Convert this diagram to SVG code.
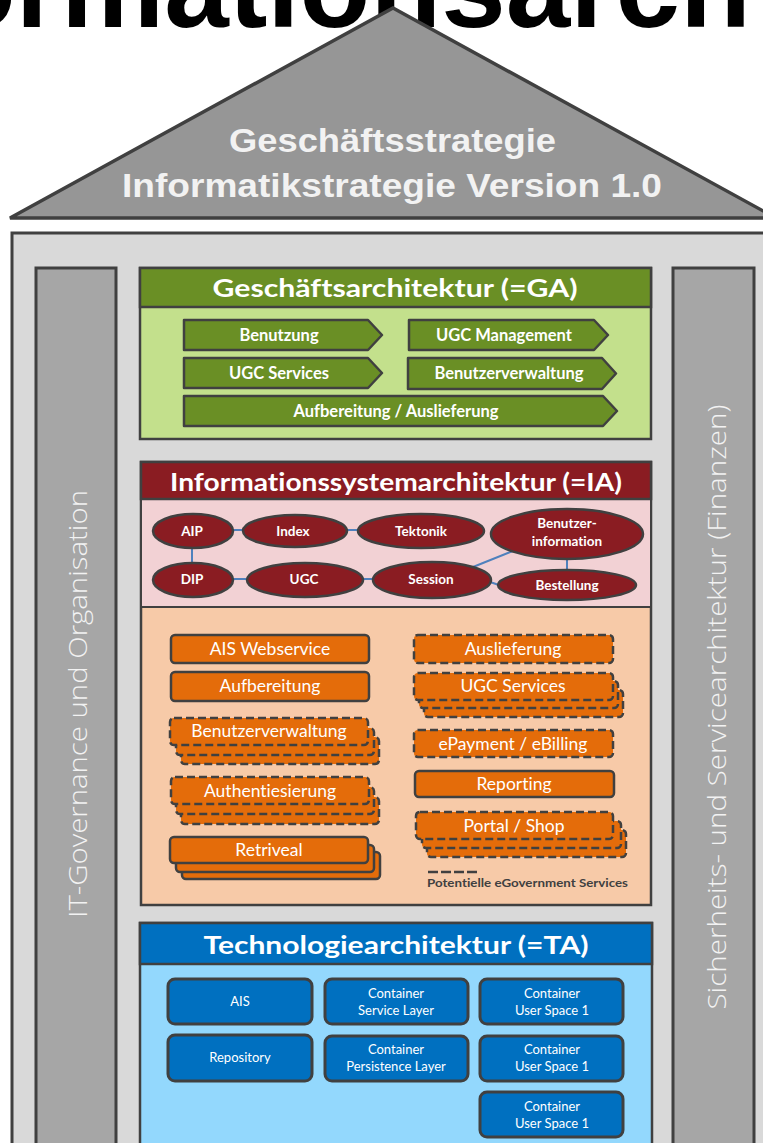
<svg xmlns="http://www.w3.org/2000/svg" width="763" height="1143" viewBox="0 0 763 1143">
<defs>
<style>
text{font-variant-ligatures:none}
.ln{stroke:#404040;stroke-width:3}
.hdr{font-family:Lato,"Liberation Sans",sans-serif;font-weight:bold;fill:#ffffff;text-anchor:middle}
.chev{fill:#6a8f25;stroke:#404040;stroke-width:2.5;stroke-linejoin:round}
.chevt{font-family:Lato,"Liberation Sans",sans-serif;font-weight:bold;font-size:16.5px;fill:#ffffff;text-anchor:middle}
.ell{fill:#8a1c22;stroke:#404040;stroke-width:2.5}
.ellt{font-family:Lato,"Liberation Sans",sans-serif;font-weight:bold;font-size:13.5px;fill:#ffffff;text-anchor:middle}
.con{stroke:#4f81bd;stroke-width:2;fill:none}
.ob{fill:#e46c0a;stroke:#404040;stroke-width:2.5}
.obd{fill:#e46c0a;stroke:#404040;stroke-width:2.5;stroke-dasharray:8 4}
.obt{font-family:Lato,"Liberation Sans",sans-serif;font-size:17.5px;fill:#ffffff;text-anchor:middle}
.tb{fill:#0070c0;stroke:#404040;stroke-width:3}
.tbt{font-family:Lato,"Liberation Sans",sans-serif;font-size:13px;fill:#ffffff;text-anchor:middle}
.pil{fill:#a6a6a6;stroke:#404040;stroke-width:3}
.pilt{font-family:"Open Sans","Liberation Sans",sans-serif;font-size:26px;font-weight:300;fill:#f2f2f2;text-anchor:middle}
</style>
</defs>
<rect width="763" height="1143" fill="#ffffff"/>
<g id="title">
<text x="-55" y="27" font-family="Liberation Sans, Arial, sans-serif" font-weight="bold" font-size="116" fill="#000000">ormationsarch</text>
</g>
<g id="roof">
<polygon points="10,218 393,8 776,218" fill="#969696" stroke="#404040" stroke-width="3.5" stroke-linejoin="miter"/>
<text x="392.5" y="152" font-family="Liberation Sans, Arial, sans-serif" font-weight="bold" font-size="34" fill="#f2f2f2" text-anchor="middle" textLength="327" lengthAdjust="spacingAndGlyphs">Geschäftsstrategie</text>
<text x="392" y="197" font-family="Liberation Sans, Arial, sans-serif" font-weight="bold" font-size="34" fill="#f2f2f2" text-anchor="middle" textLength="540" lengthAdjust="spacingAndGlyphs">Informatikstrategie  Version  1.0</text>
</g>
<g id="body">
<rect x="12" y="233" width="770" height="930" fill="#d9d9d9" class="ln" stroke-width="4"/>
</g>
<g id="pillar-left">
<rect x="36" y="268" width="80" height="900" class="pil"/>
<text class="pilt" transform="translate(87,704) rotate(-90)" textLength="428" lengthAdjust="spacingAndGlyphs">IT-Governance und Organisation</text>
</g>
<g id="pillar-right">
<rect x="673" y="268" width="81" height="900" class="pil"/>
<text class="pilt" transform="translate(726,707) rotate(-90)" textLength="605" lengthAdjust="spacingAndGlyphs">Sicherheits- und Servicearchitektur (Finanzen)</text>
</g>
<g id="ga">
<rect x="140" y="268" width="511" height="171" fill="#c3e08c" stroke="#404040" stroke-width="2.5"/>
<rect x="140" y="268" width="511" height="39" fill="#6a8f25" stroke="#404040" stroke-width="2.5"/>
<text class="hdr" x="395" y="297" font-size="24" textLength="365" lengthAdjust="spacingAndGlyphs">Geschäftsarchitektur (=GA)</text>
<g id="ga-benutzung"><path class="chev" d="M184 320H368L382 335L368 350H184Z"/><text class="chevt" x="279" y="341">Benutzung</text></g>
<g id="ga-ugc-management"><path class="chev" d="M409 320H594L608 335L594 350H409Z"/><text class="chevt" x="504" y="341">UGC Management</text></g>
<g id="ga-ugc-services"><path class="chev" d="M184 358H368L382 373L368 388H184Z"/><text class="chevt" x="279" y="379">UGC Services</text></g>
<g id="ga-benutzerverwaltung"><path class="chev" d="M408 358H602L616 373.5L602 389H408Z"/><text class="chevt" x="509" y="379">Benutzerverwaltung</text></g>
<g id="ga-aufbereitung"><path class="chev" d="M184 396H603L617 411L603 426H184Z"/><text class="chevt" x="396" y="417">Aufbereitung / Auslieferung</text></g>
</g>
<g id="ia">
<rect x="141" y="462" width="510" height="443" fill="#f7caa8" stroke="#404040" stroke-width="2.5"/>
<rect x="141" y="499" width="510" height="108" fill="#f2d1d4" stroke="#404040" stroke-width="2"/>
<rect x="141" y="462" width="510" height="37" fill="#8a1c22" stroke="#404040" stroke-width="2.5"/>
<text class="hdr" x="396" y="491" font-size="24.5" textLength="452" lengthAdjust="spacingAndGlyphs">Informationssystemarchitektur (=IA)</text>
</g>
<g id="connectors">
<line class="con" x1="233" y1="530" x2="243" y2="530"/>
<line class="con" x1="347" y1="530" x2="358" y2="530"/>
<line class="con" x1="192" y1="548" x2="192" y2="563"/>
<line class="con" x1="233" y1="579" x2="246" y2="579"/>
<line class="con" x1="363" y1="579" x2="373" y2="579"/>
<line class="con" x1="473" y1="567" x2="513" y2="551"/>
<line class="con" x1="490" y1="582" x2="499" y2="585"/>
<line class="con" x1="567" y1="558" x2="567" y2="570"/>
</g>
<g id="ia-aip"><ellipse class="ell" cx="193" cy="531" rx="40" ry="17"/><text class="ellt" x="192" y="536">AIP</text></g>
<g id="ia-index"><ellipse class="ell" cx="295" cy="531" rx="52" ry="16"/><text class="ellt" x="293" y="536">Index</text></g>
<g id="ia-tektonik"><ellipse class="ell" cx="421" cy="531" rx="63" ry="17"/><text class="ellt" x="421" y="536">Tektonik</text></g>
<g id="ia-benutzerinfo"><ellipse class="ell" cx="567" cy="534" rx="76" ry="25"/><text class="ellt" x="567" y="528">Benutzer-</text><text class="ellt" x="567" y="546">information</text></g>
<g id="ia-dip"><ellipse class="ell" cx="193" cy="580" rx="40" ry="17"/><text class="ellt" x="192" y="584">DIP</text></g>
<g id="ia-ugc"><ellipse class="ell" cx="305" cy="580" rx="58" ry="17"/><text class="ellt" x="304" y="584">UGC</text></g>
<g id="ia-session"><ellipse class="ell" cx="432" cy="580" rx="59" ry="18"/><text class="ellt" x="431" y="584">Session</text></g>
<g id="ia-bestellung"><ellipse class="ell" cx="567" cy="585" rx="69" ry="15"/><text class="ellt" x="567" y="590">Bestellung</text></g>
<g id="svc-ais-webservice"><rect class="ob" x="171" y="635" width="198" height="28" rx="4"/><text class="obt" x="270" y="655">AIS Webservice</text></g>
<g id="svc-aufbereitung"><rect class="ob" x="171" y="672" width="198" height="29" rx="4"/><text class="obt" x="270" y="692">Aufbereitung</text></g>
<g id="svc-benutzerverwaltung">
<rect class="obd" x="181" y="737" width="198" height="27" rx="4"/>
<rect class="obd" x="176" y="728" width="198" height="27" rx="4"/>
<rect class="obd" x="170" y="718" width="198" height="27" rx="4"/>
<text class="obt" x="269" y="737">Benutzerverwaltung</text></g>
<g id="svc-authentiesierung">
<rect class="obd" x="181" y="797" width="198" height="27" rx="4"/>
<rect class="obd" x="176" y="787" width="198" height="27" rx="4"/>
<rect class="obd" x="171" y="777" width="198" height="27" rx="4"/>
<text class="obt" x="270" y="797">Authentiesierung</text></g>
<g id="svc-retriveal">
<rect class="ob" x="182" y="852" width="198" height="27" rx="4"/>
<rect class="ob" x="176" y="845" width="198" height="27" rx="4"/>
<rect class="ob" x="170" y="837" width="198" height="26" rx="4"/>
<text class="obt" x="269" y="856">Retriveal</text></g>
<g id="svc-auslieferung"><rect class="obd" x="414" y="635" width="199" height="28" rx="4"/><text class="obt" x="513" y="655">Auslieferung</text></g>
<g id="svc-ugc-services">
<rect class="obd" x="424" y="690" width="199" height="27" rx="4"/>
<rect class="obd" x="419" y="681" width="199" height="27" rx="4"/>
<rect class="obd" x="414" y="673" width="199" height="27" rx="4"/>
<text class="obt" x="513" y="692">UGC Services</text></g>
<g id="svc-epayment"><rect class="obd" x="414" y="730" width="199" height="27" rx="4"/><text class="obt" x="513" y="750">ePayment / eBilling</text></g>
<g id="svc-reporting"><rect class="ob" x="415" y="771" width="199" height="26" rx="4"/><text class="obt" x="514" y="790">Reporting</text></g>
<g id="svc-portal">
<rect class="obd" x="427" y="830" width="199" height="27" rx="4"/>
<rect class="obd" x="422" y="821" width="199" height="27" rx="4"/>
<rect class="obd" x="416" y="812" width="197" height="27" rx="4"/>
<text class="obt" x="514" y="832">Portal / Shop</text></g>
<g id="legend">
<line x1="428" y1="872" x2="478" y2="872" stroke="#404040" stroke-width="2.5" stroke-dasharray="10 3"/>
<text x="427" y="887" font-family="Lato, 'Liberation Sans', sans-serif" font-weight="bold" font-size="12" fill="#404040" textLength="201" lengthAdjust="spacingAndGlyphs">Potentielle eGovernment Services</text>
</g>
<g id="ta">
<rect x="140" y="923" width="512" height="240" fill="#93d8fd" stroke="#404040" stroke-width="2.5"/>
<rect x="140" y="923" width="512" height="41" fill="#0070c0" stroke="#404040" stroke-width="2.5"/>
<text class="hdr" x="396" y="954" font-size="25" textLength="385" lengthAdjust="spacingAndGlyphs">Technologiearchitektur (=TA)</text>
</g>
<g id="ta-ais"><rect class="tb" x="168" y="979" width="144" height="45" rx="7"/><text class="tbt" x="240" y="1006">AIS</text></g>
<g id="ta-container-service"><rect class="tb" x="325" y="979" width="143" height="45" rx="7"/><text class="tbt" x="396" y="998">Container</text><text class="tbt" x="396" y="1015">Service Layer</text></g>
<g id="ta-container-user1"><rect class="tb" x="480" y="979" width="143" height="45" rx="7"/><text class="tbt" x="552" y="998">Container</text><text class="tbt" x="552" y="1015">User Space 1</text></g>
<g id="ta-repository"><rect class="tb" x="168" y="1035" width="144" height="46" rx="7"/><text class="tbt" x="240" y="1062">Repository</text></g>
<g id="ta-container-persistence"><rect class="tb" x="325" y="1036" width="143" height="45" rx="7"/><text class="tbt" x="396" y="1054">Container</text><text class="tbt" x="396" y="1071">Persistence Layer</text></g>
<g id="ta-container-user2"><rect class="tb" x="480" y="1036" width="143" height="45" rx="7"/><text class="tbt" x="552" y="1054">Container</text><text class="tbt" x="552" y="1071">User Space 1</text></g>
<g id="ta-container-user3"><rect class="tb" x="480" y="1092" width="143" height="45" rx="7"/><text class="tbt" x="552" y="1111">Container</text><text class="tbt" x="552" y="1128">User Space 1</text></g>
</svg>
